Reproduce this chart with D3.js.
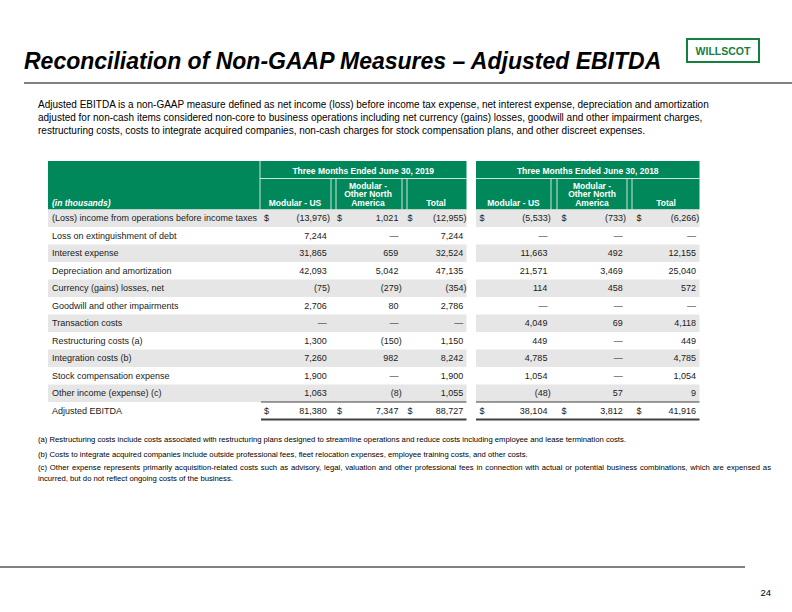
<!DOCTYPE html>
<html><head><meta charset="utf-8">
<script src="https://cdn.jsdelivr.net/npm/d3@7"></script>
<style>
html,body{margin:0;padding:0;background:#fff;}
svg{display:block;}
</style></head>
<body>
<script>
// ---------- data ----------
const title = "Reconciliation of Non-GAAP Measures \u2013 Adjusted EBITDA";
const introLines = [
  "Adjusted EBITDA is a non-GAAP measure defined as net income (loss) before income tax expense, net interest expense, depreciation and amortization",
  "adjusted for non-cash items considered non-core to business operations including net currency (gains) losses, goodwill and other impairment charges,",
  "restructuring costs, costs to integrate acquired companies, non-cash charges for stock compensation plans,  and other discreet expenses."
];
const periods = ["Three Months Ended June 30, 2019", "Three Months Ended June 30, 2018"];
const columnHeads = [["Modular - US"], ["Modular -", "Other North", "America"], ["Total"]];
const unitLabel = "(in thousands)";
const rowLabels = [
  "(Loss) income from operations before income taxes",
  "Loss on extinguishment of debt",
  "Interest expense",
  "Depreciation and amortization",
  "Currency (gains) losses, net",
  "Goodwill and other impairments",
  "Transaction costs",
  "Restructuring costs (a)",
  "Integration costs (b)",
  "Stock compensation expense",
  "Other income (expense) (c)",
  "Adjusted EBITDA"
];
const us2019    = [-13976, 7244, 31865, 42093, -75, 2706, null, 1300, 7260, 1900, 1063, 81380];
const ona2019   = [1021, null, 659, 5042, -279, 80, null, -150, 982, null, -8, 7347];
const total2019 = [-12955, 7244, 32524, 47135, -354, 2786, null, 1150, 8242, 1900, 1055, 88727];
const us2018    = [-5533, null, 11663, 21571, 114, null, 4049, 449, 4785, 1054, -48, 38104];
const ona2018   = [-733, null, 492, 3469, 458, null, 69, null, null, null, 57, 3812];
const total2018 = [-6266, null, 12155, 25040, 572, null, 4118, 449, 4785, 1054, 9, 41916];
const dollarRows = ["(Loss) income from operations before income taxes", "Adjusted EBITDA"];
const footnotes = [
  ["(a) Restructuring costs include costs associated with restructuring plans designed to streamline operations and reduce costs including employee and lease termination costs."],
  ["(b) Costs to integrate acquired companies include outside professional fees, fleet relocation expenses, employee training costs, and other costs."],
  ["(c) Other expense represents primarily acquisition-related costs such as advisory, legal, valuation and other professional fees in connection with actual or potential business combinations, which are expensed as",
   "incurred, but do not reflect ongoing costs of the business."]
];
const logoText = "WILLSCOT";
const pageNumber = "24";

// ---------- layout ----------
const W = 792, H = 612;
const GREEN = "#00875a", SHADE = "#e6e6e6", RULE = "#808080";
const SANS = "'Liberation Sans', Arial, sans-serif";
const NARROW = "'Liberation Sans Narrow', 'Arial Narrow', 'Liberation Sans', sans-serif";

const svg = d3.select("body").append("svg").attr("width", W).attr("height", H)
  .attr("viewBox", `0 0 ${W} ${H}`);

// title
svg.append("text").attr("x", 24).attr("y", 68.5)
  .attr("font-family", SANS).attr("font-weight", "bold").attr("font-style", "italic")
  .attr("font-size", 23).attr("fill", "#000").text(title);
svg.append("line").attr("x1", 24).attr("x2", W).attr("y1", 83).attr("y2", 83)
  .attr("stroke", RULE).attr("stroke-width", 2);

// logo
svg.append("rect").attr("x", 687).attr("y", 39).attr("width", 72).attr("height", 23)
  .attr("fill", "#fff").attr("stroke", "#13803f").attr("stroke-width", 2);
svg.append("text").attr("x", 723).attr("y", 54.5).attr("text-anchor", "middle")
  .attr("font-family", SANS).attr("font-weight", "bold").attr("font-size", 10.5)
  .attr("fill", "#13803f").text(logoText);

// intro
svg.append("g").selectAll("text").data(introLines).join("text")
  .attr("x", 38).attr("y", (d, i) => 107.5 + i * 13)
  .attr("font-family", NARROW).attr("font-size", 10).attr("fill", "#000")
  .text(d => d);

// ---------- table ----------
const headTop = 161, headMid = 178.5, bodyTop = 209.5, bodyBottom = 419.5;
const labelX0 = 48, labelX1 = 260;
const blocks = [
  {x0: 260, x1: 466.5, period: periods[0], series: [us2019, ona2019, total2019],
   cols: [{x0: 260, x1: 331, right: 330, dollar: 264, center: 295},
          {x0: 336, x1: 402, right: 401.7, dollar: 337, center: 368},
          {x0: 407, x1: 466.5, right: 466.5, dollar: 407.5, center: 436}]},
  {x0: 476, x1: 699.5, period: periods[1], series: [us2018, ona2018, total2018],
   cols: [{x0: 476, x1: 551, right: 550.7, dollar: 479.5, center: 513.5},
          {x0: 557, x1: 627, right: 626, dollar: 561.5, center: 592},
          {x0: 632, x1: 699.5, right: 699.3, dollar: 636.5, center: 666}]}
];

const y = d3.scaleBand().domain(rowLabels).range([bodyTop, bodyBottom]).paddingInner(0);

// header background
svg.append("rect").attr("x", labelX0).attr("y", headTop).attr("width", 466.5 - labelX0)
  .attr("height", bodyTop - headTop).attr("fill", GREEN);
svg.append("rect").attr("x", 476).attr("y", headTop).attr("width", 699.5 - 476)
  .attr("height", bodyTop - headTop).attr("fill", GREEN);

// body shading
const bodyG = svg.append("g");
rowLabels.forEach((lab, i) => {
  if (i % 2 === 0) {
    bodyG.append("rect").attr("x", labelX0).attr("y", y(lab)).attr("width", 466.5 - labelX0)
      .attr("height", y.bandwidth()).attr("fill", SHADE);
    bodyG.append("rect").attr("x", 476).attr("y", y(lab)).attr("width", 699.5 - 476)
      .attr("height", y.bandwidth()).attr("fill", SHADE);
  }
});

// header separators (white)
const sep = svg.append("g").attr("stroke", "#fff").attr("stroke-width", 0.8);
sep.append("line").attr("x1", labelX1).attr("x2", labelX1).attr("y1", headTop).attr("y2", bodyTop);
blocks.forEach(b => {
  sep.append("line").attr("x1", b.x0).attr("x2", b.x1).attr("y1", headMid).attr("y2", headMid);
  b.cols.forEach((c, j) => {
    if (j < b.cols.length - 1) {
      sep.append("line").attr("x1", c.x1).attr("x2", c.x1).attr("y1", headMid).attr("y2", bodyTop);
      sep.append("line").attr("x1", b.cols[j + 1].x0).attr("x2", b.cols[j + 1].x0).attr("y1", headMid).attr("y2", bodyTop);
    }
  });
});

// header text
const hdr = svg.append("g").attr("font-family", SANS).attr("font-weight", "bold")
  .attr("font-size", 8.5).attr("fill", "#fff");
hdr.append("text").attr("x", 52).attr("y", 206).attr("font-style", "italic").text(unitLabel);
blocks.forEach(b => {
  hdr.append("text").attr("x", (b.x0 + b.x1) / 2).attr("y", 174)
    .attr("text-anchor", "middle").text(b.period);
  b.cols.forEach((c, j) => {
    const lines = columnHeads[j];
    lines.forEach((ln, k) => {
      hdr.append("text").attr("x", c.center).attr("y", 206 - (lines.length - 1 - k) * 8.6)
        .attr("text-anchor", "middle").text(ln);
    });
  });
});

// body text
const fmt = d3.format(",");
const body = svg.append("g").attr("font-family", SANS).attr("font-size", 9).attr("fill", "#1a1a1a");
rowLabels.forEach((lab, i) => {
  const by = y(lab) + y.bandwidth() / 2 + 3.2;
  body.append("text").attr("x", 52).attr("y", by).text(lab);
  blocks.forEach(b => {
    b.cols.forEach((c, j) => {
      const v = b.series[j][i];
      let txt, xr;
      if (v === null) { txt = "\u2014"; xr = c.right - 3.3; }
      else if (v < 0) { txt = "(" + fmt(-v) + ")"; xr = c.right; }
      else { txt = fmt(v); xr = c.right - 3.3; }
      body.append("text").attr("x", xr).attr("y", by).attr("text-anchor", "end").text(txt);
      if (dollarRows.includes(lab)) {
        body.append("text").attr("x", c.dollar).attr("y", by).text("$");
      }
    });
  });
});

// total rules
const last = rowLabels[rowLabels.length - 1];
const rules = svg.append("g").attr("stroke", "#404040");
blocks.forEach(b => {
  const rx0 = b.x0 + (b.x0 === 260 ? 1 : 0);
  rules.append("line").attr("x1", rx0).attr("x2", b.x1).attr("y1", y(last)).attr("y2", y(last)).attr("stroke-width", 1.2);
  rules.append("line").attr("x1", rx0).attr("x2", b.x1).attr("y1", y(last) + y.bandwidth()).attr("y2", y(last) + y.bandwidth()).attr("stroke-width", 2);
});

// footnotes
const fnG = svg.append("g").attr("font-family", NARROW).attr("font-size", 7.7).attr("fill", "#000");
const fnY = [442, 457, 470];
footnotes.forEach((lines, i) => {
  lines.forEach((ln, k) => {
    const t = fnG.append("text").attr("x", 38).attr("y", fnY[i] + k * 10.5).text(ln);
    // justify non-final lines of a multi-line note
    if (lines.length > 1 && k < lines.length - 1) {
      const target = 771 - 38;
      const len = t.node().getComputedTextLength();
      const spaces = (ln.match(/ /g) || []).length;
      if (spaces > 0 && len < target) t.attr("word-spacing", (target - len) / spaces);
    }
  });
});

// bottom rule & page number
svg.append("line").attr("x1", 0).attr("x2", 745).attr("y1", 567).attr("y2", 567)
  .attr("stroke", RULE).attr("stroke-width", 2);
svg.append("text").attr("x", 771).attr("y", 596).attr("text-anchor", "end")
  .attr("font-family", SANS).attr("font-size", 9.5).attr("fill", "#000").text(pageNumber);
</script>
</body></html>
